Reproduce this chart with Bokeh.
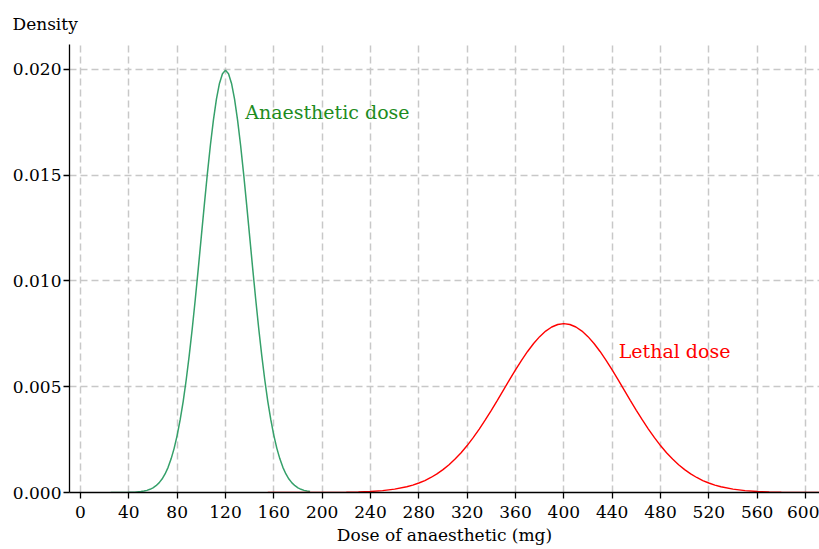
from bokeh.plotting import figure
from bokeh.models import Range1d, FixedTicker, NumeralTickFormatter, Label
from bokeh.embed import file_html
from bokeh.resources import INLINE

# Anaesthetic dose density
anaesthetic_x = [25, 30, 35, 40, 45, 50, 52.5, 55, 57.5, 60, 62.5, 65, 67.5, 70, 72.5,
                 75, 77.5, 80, 82.5, 85, 87.5, 90, 92.5, 95, 97.5, 100, 102.5, 105,
                 107.5, 110, 112.5, 115, 117.5, 120, 122.5, 125, 127.5, 130, 132.5,
                 135, 137.5, 140, 142.5, 145, 147.5, 150, 152.5, 155, 157.5, 160,
                 162.5, 165, 167.5, 170, 172.5, 175, 177.5, 180, 182.5, 185, 187.5, 190]
anaesthetic_y = [0.0000003, 0.0000008, 0.0000024, 0.0000067, 0.0000176, 0.0000436,
                 0.0000670, 0.000101, 0.000151, 0.000222, 0.000320, 0.000455,
                 0.000636, 0.000876, 0.001188, 0.00159, 0.002086, 0.00270, 0.003439,
                 0.00431, 0.005327, 0.00648, 0.007751, 0.00913, 0.010594, 0.01210,
                 0.013603, 0.01506, 0.016408, 0.01760, 0.018593, 0.01933, 0.019792,
                 0.01995, 0.019792, 0.01933, 0.018593, 0.01760, 0.016408, 0.01506,
                 0.013603, 0.01210, 0.010594, 0.00913, 0.007751, 0.00648, 0.005327,
                 0.00431, 0.003439, 0.00270, 0.002086, 0.00159, 0.001188, 0.000876,
                 0.000636, 0.000455, 0.000320, 0.000222, 0.000151, 0.000101,
                 0.0000670, 0.0000436]

# Lethal dose density
lethal_x = [155, 160, 170, 180, 190, 200, 210, 220, 230, 240, 250, 260, 270, 275, 280,
            285, 290, 295, 300, 305, 310, 315, 320, 325, 330, 335, 340, 345, 350,
            355, 360, 365, 370, 375, 380, 385, 390, 395, 400, 405, 410, 415, 420,
            425, 430, 435, 440, 445, 450, 455, 460, 465, 470, 475, 480, 485, 490,
            495, 500, 505, 510, 515, 520, 525, 530, 540, 550, 560, 570, 580, 590,
            600, 610, 620]
lethal_y = [0.0000000, 0.0000001, 0.0000002, 0.0000005, 0.0000012, 0.0000027,
            0.0000058, 0.0000122, 0.0000246, 0.0000477, 0.0000886, 0.000158,
            0.000272, 0.000351, 0.000448, 0.000566, 0.000709, 0.000880, 0.001080,
            0.001312, 0.001579, 0.001881, 0.002218, 0.002590, 0.002995, 0.003427,
            0.003884, 0.004357, 0.004839, 0.005322, 0.005794, 0.006245, 0.006664,
            0.007041, 0.007365, 0.007628, 0.007821, 0.007939, 0.007979, 0.007939,
            0.007821, 0.007628, 0.007365, 0.007041, 0.006664, 0.006245, 0.005794,
            0.005322, 0.004839, 0.004357, 0.003884, 0.003427, 0.002995, 0.002590,
            0.002218, 0.001881, 0.001579, 0.001312, 0.001080, 0.000880, 0.000709,
            0.000566, 0.000448, 0.000351, 0.000272, 0.000158, 0.0000886, 0.0000477,
            0.0000246, 0.0000122, 0.0000058, 0.0000027, 0.0000012, 0.0000005]

x_ticks = [0, 40, 80, 120, 160, 200, 240, 280, 320, 360, 400, 440, 480, 520, 560, 600]
y_ticks = [0.000, 0.005, 0.010, 0.015, 0.020]

FONT = "DejaVu Serif"

p = figure(width=819, height=549, output_backend="svg", toolbar_location=None,
           x_range=Range1d(-9.1, 611.6), y_range=Range1d(0, 0.02117),
           min_border_left=69, min_border_right=0, min_border_top=44,
           min_border_bottom=57, title="Density")
p.outline_line_color = None
p.background_fill_color = "white"
p.border_fill_color = "white"

p.title.align = "left"
p.title.offset = -57
p.title.standoff = 21
p.title.text_font = FONT
p.title.text_font_size = "17px"
p.title.text_font_style = "normal"
p.title.text_color = "black"

for ax in (p.xaxis[0], p.yaxis[0]):
    ax.axis_line_color = "black"
    ax.axis_line_width = 1.3
    ax.major_tick_line_color = "black"
    ax.major_tick_line_width = 1.3
    ax.major_tick_out = 6
    ax.major_tick_in = 0
    ax.minor_tick_line_color = None
    ax.major_label_text_font = FONT
    ax.major_label_text_font_size = "17px"
    ax.major_label_text_color = "black"

p.xaxis.ticker = FixedTicker(ticks=x_ticks)
p.yaxis.ticker = FixedTicker(ticks=y_ticks)
p.yaxis.formatter = NumeralTickFormatter(format="0.000")
p.xaxis.major_label_standoff = 7
p.yaxis.major_label_standoff = 2
p.xaxis.axis_label = "Dose of anaesthetic (mg)"
p.xaxis.axis_label_text_font = FONT
p.xaxis.axis_label_text_font_size = "17px"
p.xaxis.axis_label_text_font_style = "normal"
p.xaxis.axis_label_text_color = "black"
p.xaxis.axis_label_standoff = 4

for g in (p.xgrid[0], p.ygrid[0]):
    g.grid_line_color = "#c8c8c8"
    g.grid_line_width = 1.5
    g.grid_line_dash = "7 4"
p.xgrid.ticker = FixedTicker(ticks=x_ticks)
p.ygrid.ticker = FixedTicker(ticks=y_ticks)

p.line(anaesthetic_x, anaesthetic_y, line_color="#35a06a", line_width=1.5)
p.line(lethal_x, lethal_y, line_color="#ff0000", line_width=1.4)

p.add_layout(Label(x=136.3, y=0.01796, text="Anaesthetic dose",
                   text_font=FONT, text_font_size="19px", text_color="#1e8c1e",
                   text_baseline="alphabetic", text_align="left"))
p.add_layout(Label(x=445.4, y=0.006674, text="Lethal dose",
                   text_font=FONT, text_font_size="19px", text_color="#ff0000",
                   text_baseline="alphabetic", text_align="left"))

open("out.html", "w").write(file_html(p, INLINE))
